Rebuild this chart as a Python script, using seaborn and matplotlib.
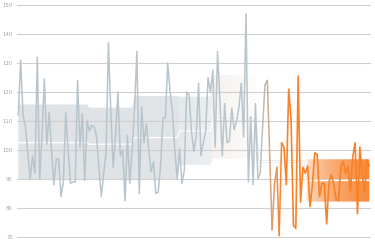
import numpy as np
import matplotlib
matplotlib.use("Agg")
import matplotlib.pyplot as plt
import seaborn as sns
from matplotlib import patheffects as pe
from matplotlib.colors import to_rgb

# ---------------- data ----------------
values = [112, 131, 112, 108, 99, 90, 98, 92, 132, 90,
          105, 124.5, 102, 113, 100, 88, 97, 97, 84, 89,
          113, 100, 88.5, 89, 89, 124, 101, 112.5, 89.5, 110,
          106.5, 108.5, 108, 104.5, 94, 84, 92, 99, 137, 113,
          94, 105, 120, 98, 100, 82.5, 105, 88.5, 100, 114,
          134, 85, 115, 102.5, 109, 100, 92.5, 96, 85, 85.5,
          95, 111, 111, 130, 120, 113, 100, 90, 100.5, 88.5,
          93, 120, 119, 106.5, 99.5, 104.5, 123, 98, 102.5, 106.5,
          125, 120, 127.5, 101, 134, 117, 98, 116, 102.5, 103,
          114.5, 107, 110, 114.5, 123, 104.5, 147, 89, 111.5, 88,
          116, 90, 92, 108, 122.5, 124, 98, 72.5, 88, 94,
          70.5, 102.5, 101, 88, 121, 110.5, 74, 73, 125.5, 82,
          94, 92, 94.5, 80.5, 88, 99, 98.5, 84, 88.5, 88.5,
          74.5, 89, 91.5, 88, 83, 82.5, 94.5, 96, 92, 94.5,
          85.5, 97.5, 102.5, 78, 101, 91.5, 85.5, 96.5, 94.5]

seg_start = [0, 30, 49, 68, 82, 101, 121]
seg_end = [29, 48, 67, 81, 100, 120, 148]
seg_low = [89.7, 89.7, 89.7, 94.9, 97.0, 96.0, 82.2]
seg_high = [115.7, 114.6, 118.6, 118.4, 125.8, 96.0, 96.8]
seg_mean = [102.5, 102.0, 104.3, 106.6, 110.6, 96.0, 89.7]

y_ticks = [70, 80, 90, 100, 110, 120, 130, 140, 150]

# ---------------- style ----------------
gray_line = "#b9c5cc"
orange_line = "#fa8128"
band_from = ["#dfe3e6", "#dfe3e6", "#e0e4e7", "#e6e9ec", "#f5f2ef", "#ffffff", "#ffffff"]
band_to = ["#dfe3e6", "#dfe3e6", "#e0e4e7", "#eceff0", "#fdfdfc", "#ffffff", "#f68b3c"]
band_gamma = [1, 1, 1, 1, 1, 1, 0.4]
trans_a, trans_b = 102, 111

sns.set_theme(style="white")
plt.rcParams["font.family"] = ["DejaVu Sans"]

n = len(values)
idx = np.arange(n)
vals = np.array(values, dtype=float)
low = np.empty(n); high = np.empty(n); mean = np.empty(n)
for s, e, l, h, m in zip(seg_start, seg_end, seg_low, seg_high, seg_mean):
    low[s:e + 1] = l
    high[s:e + 1] = h
    mean[s:e + 1] = m

W, H = 375, 243
fig = plt.figure(figsize=(W / 100, H / 100), dpi=100)
x0, x1 = 17.3, 371.0
ax = fig.add_axes([x0 / W, 5.42 / H, (x1 - x0) / W, 233.16 / H])

# band with horizontal colour gradient
cols = np.ones((1, n, 3))
for k, (s, e) in enumerate(zip(seg_start, seg_end)):
    c0 = np.array(to_rgb(band_from[k]))
    c1 = np.array(to_rgb(band_to[k]))
    for i in range(s, e + 1):
        t = (i - s) / max(e - s, 1)
        t = t ** band_gamma[k]
        cols[0, i] = c0 * (1 - t) + c1 * t
poly = ax.fill_between(idx, low, high, facecolor="none", edgecolor="none")
im = ax.imshow(cols, extent=(-0.5, n - 0.5, 60, 160), aspect="auto",
               interpolation="bilinear", origin="lower", zorder=1)
im.set_clip_path(poly.get_paths()[0], ax.transData)

# mean lines
ax.plot(idx[:83], mean[:83], color="white", lw=0.9, zorder=1.7)
ax.plot(idx[82:122], mean[82:122], color="white", lw=0.9, zorder=1.7,
        path_effects=[pe.Stroke(linewidth=1.8, foreground="#e3e3e3"), pe.Normal()])
ax.plot(idx[121:], mean[121:], color="white", lw=0.9, zorder=1.7)

# data line
sns.lineplot(x=idx[:trans_a + 1], y=vals[:trans_a + 1], color=gray_line, lw=1.1,
             ax=ax, zorder=3, legend=False)
g = np.array(to_rgb(gray_line)); o = np.array(to_rgb(orange_line))
for i in range(trans_a, trans_b):
    t = (i + 0.5 - trans_a) / (trans_b - trans_a)
    ax.plot(idx[i:i + 2], vals[i:i + 2], color=g * (1 - t) + o * t, lw=1.1,
            solid_capstyle="round", zorder=3)
sns.lineplot(x=idx[trans_b:], y=vals[trans_b:], color=orange_line, lw=1.2,
             ax=ax, zorder=3, legend=False)

ax.set_xlim(-0.42, 148.7)
ax.set_ylim(69.8, 150.2)
ax.set_yticks(y_ticks)
ax.set_yticklabels([str(v) for v in y_ticks])
ax.set_xticks([])
ax.set_axisbelow("line")
ax.yaxis.grid(True, color="#d0d0d0", lw=0.8)
ax.xaxis.grid(False)
ax.tick_params(axis="y", length=0, pad=3.2, labelsize=3.8, labelcolor="#a3a3a3")
for sp in ax.spines.values():
    sp.set_visible(False)
ax.set_xlabel(""); ax.set_ylabel("")
ax.set_facecolor("white")

fig.savefig("out.png", dpi=100)
